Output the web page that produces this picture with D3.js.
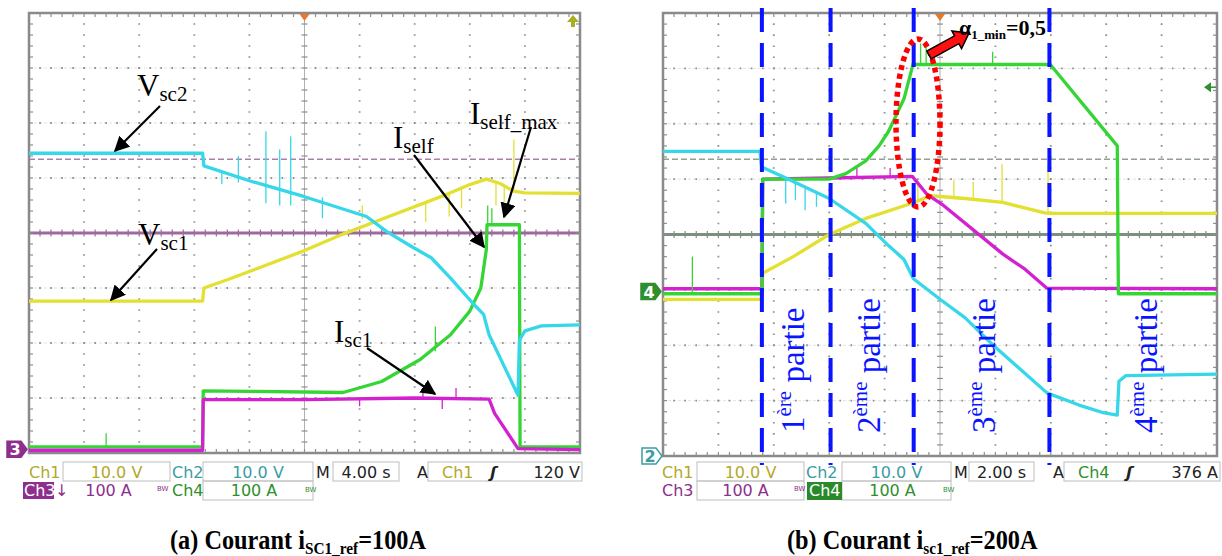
<!DOCTYPE html>
<html><head><meta charset="utf-8">
<script src="https://cdn.jsdelivr.net/npm/d3@7"></script>
<style>body{margin:0;background:#fff}svg{display:block}</style>
</head><body><svg id="c" width="1222" height="556"></svg>
<script>
// ---------------- DATA (time in s, level in screen divisions from bottom) ----------------
// Panel (a): 4 s/div
const aVsc1 = [[0,2.76],[12.6,2.76],[12.7,3.0],[14.4,3.15],[20,3.68],[22.8,3.98],[25.6,4.25],[30,4.67],[32,4.88],[33.2,4.98],[34.2,4.9],[35.2,4.76],[36,4.73],[40,4.72]];
const aVsc2 = [[0,5.45],[12.6,5.45],[12.7,5.22],[16,4.95],[20,4.66],[24.5,4.3],[26,4.02],[27.8,3.75],[29.2,3.55],[30.6,3.18],[32.3,2.7],[33.0,2.52],[33.4,2.15],[35.5,1.05],[35.6,2.05],[36.0,2.22],[37.2,2.31],[40,2.33]];
const aIsc1 = [[0,0.05],[12.6,0.05],[12.65,0.97],[20,0.97],[28,1.0],[33.4,0.98],[33.8,0.72],[35.5,0.08],[40,0.06]];
const aIself = [[0,0.11],[12.6,0.11],[12.65,1.13],[16,1.12],[22.8,1.1],[25.6,1.3],[28.4,1.7],[30.6,2.15],[32,2.58],[32.8,3.0],[33.2,3.7],[33.25,4.15],[35.6,4.15],[35.65,0.11],[40,0.11]];
const aSpikesVsc1 = [[24.2,4.25,4.5],[28.8,4.55,4.2],[30.5,4.7,4.3],[31.4,4.8,4.45],[33.9,4.95,4.5],[34.5,4.85,4.45],[35.2,4.75,5.7]];
const aSpikesVsc2 = [[14.0,5.13,4.89],[15.2,5.4,4.92],[17.2,5.85,4.54],[18.2,5.52,4.5],[19.0,5.76,4.5],[21.3,4.65,4.27]];
const aSpikesIsc1 = [[24,0.98,0.85],[28.6,1.0,1.18],[30,0.97,0.8],[31,1.0,1.18]];
const aSpikesIself = [[5.6,0.11,0.36],[29.5,1.85,2.3],[33.3,4.15,4.5],[33.6,4.15,4.45]];
const aRefSolid = 4, aRefDashed = 5.34;

// Panel (b): 2 s/div
const bVsc1 = [[0,2.83],[3.57,2.83],[3.6,3.3],[4.7,3.6],[6.0,4.0],[7.32,4.29],[8.96,4.56],[9.66,4.7],[10.9,4.65],[12.26,4.58],[13.78,4.39],[14,4.38],[20,4.38]];
const bVsc2 = [[0,5.5],[3.5,5.5],[3.56,5.22],[4.3,5.05],[6.0,4.65],[7.32,4.2],[8.14,3.8],[8.7,3.55],[9.04,3.2],[10,2.83],[10.9,2.5],[11.92,2.0],[12.96,1.54],[13.86,1.14],[15.02,0.92],[15.84,0.79],[16.4,0.74],[16.46,1.35],[16.7,1.45],[20,1.48]];
const bIsc1 = [[0,3.02],[3.57,3.02],[3.6,5.0],[6,5.02],[9,5.05],[9.52,4.73],[10.06,4.55],[12.26,3.65],[13.08,3.37],[13.86,3.03],[20,3.02]];
const bIself = [[0,2.93],[3.57,2.93],[3.6,5.0],[6.0,5.0],[6.6,5.1],[7.32,5.33],[7.8,5.6],[8.14,5.86],[8.7,6.45],[9.04,7.1],[9.1,7.07],[13.98,7.07],[16.4,5.6],[16.44,2.93],[20,2.93]];
const bSpikesVsc1 = [[9.2,4.6,4.9],[10.5,4.68,4.98],[11.2,4.65,4.95],[12.24,4.6,5.27],[13.9,4.4,5.25]];
const bSpikesVsc2 = [[4.43,5.02,4.56],[4.78,4.95,4.62],[5.13,4.88,4.44],[5.54,4.78,4.5]];
const bSpikesIself = [[1.06,2.93,3.6],[9.3,7.07,7.45],[9.5,7.07,7.4],[11.9,7.07,7.3]];
const bSpikesIsc1 = [[7,5.03,5.2],[8.2,5.04,5.2]];
const bRefSolid = 4, bRefDashed = 5.36;
const bPhaseBounds = [3.57, 6.05, 9.05, 13.95];
const bPhaseLabels = [["1","ère"],["2","ème"],["3","ème"],["4","ème"]];
const bPhaseLabelT = [5.1, 7.85, 12.0, 17.85];

// Status bar texts
const aStatus = {ch1:"10.0 V", ch2:"10.0 V", ch3:"100 A", ch4:"100 A", time:"4.00 s", trigCh:"Ch1", trigLvl:"120 V"};
const bStatus = {ch1:"10.0 V", ch2:"10.0 V", ch3:"100 A", ch4:"100 A", time:"2.00 s", trigCh:"Ch4", trigLvl:"376 A"};

// ---------------- STYLE ----------------
const C = {ch1:"#e3e031", ch2:"#35d7e8", ch3:"#d421d0", ch4:"#35d535",
  t1:"#b3a82b", t2:"#3b9ca4", t3:"#8d2f8d", t4:"#2f8f2f", grid:"#8e8e8e", frame:"#8a8a8a"};
const serif = "'Liberation Serif','Times New Roman',serif";
const sans = "'DejaVu Sans',Verdana,sans-serif";

const svg = d3.select('#c');
svg.append('rect').attr('width',1222).attr('height',556).attr('fill','#fff');

function drawPanel(o){
  const x = d3.scaleLinear().domain([0,o.tMax]).range([o.left,o.right]);
  const y = d3.scaleLinear().domain([0,8]).range([o.bottom,o.top]);
  const g = svg.append('g');
  const tDiv = o.tMax/10;
  const mx = (o.right-o.left)/50, my = (o.bottom-o.top)/40;
  for (let i=1;i<8;i++){ if(i===4) continue;
    g.append('line').attr('x1',o.left).attr('x2',o.right).attr('y1',y(i)).attr('y2',y(i))
      .attr('stroke','#e2e2e2').attr('stroke-width',1).attr('stroke-dasharray','3 2');
    g.append('line').attr('x1',o.left).attr('x2',o.right).attr('y1',y(i)).attr('y2',y(i))
      .attr('stroke',C.grid).attr('stroke-width',1.8).attr('stroke-dasharray',`1.6 ${mx-1.6}`).attr('stroke-dashoffset',0.8);
  }
  for (let i=1;i<10;i++){ if(i===5) continue;
    g.append('line').attr('x1',x(i*tDiv)).attr('x2',x(i*tDiv)).attr('y1',o.top).attr('y2',o.bottom)
      .attr('stroke',C.grid).attr('stroke-width',1.8).attr('stroke-dasharray',`1.6 ${my-1.6}`).attr('stroke-dashoffset',0.8);
  }
  const cx = x(5*tDiv);
  g.append('line').attr('x1',cx).attr('x2',cx).attr('y1',o.top).attr('y2',o.bottom).attr('stroke','#b0b0b0').attr('stroke-width',1);
  d3.range(0,41).forEach(k=>{ const yy=o.top+k*my;
    g.append('line').attr('x1',cx-3).attr('x2',cx+3).attr('y1',yy).attr('y2',yy).attr('stroke',C.grid).attr('stroke-width',1.2);});
  g.append('line').attr('x1',o.left).attr('x2',o.right).attr('y1',y(o.refDashed)).attr('y2',y(o.refDashed))
    .attr('stroke',o.refColor).attr('stroke-width',1.6).attr('stroke-dasharray','6 3').attr('opacity',0.85);
  g.append('line').attr('x1',o.left).attr('x2',o.right).attr('y1',y(o.refSolid)).attr('y2',y(o.refSolid))
    .attr('stroke',o.refColor).attr('stroke-width',3);
  d3.range(0,51).forEach(k=>{ const xx=o.left+k*mx;
    g.append('line').attr('x1',xx).attr('x2',xx).attr('y1',y(4)-3.5).attr('y2',y(4)+3.5).attr('stroke',o.refColor).attr('stroke-width',1.2);});
  g.append('rect').attr('x',o.left).attr('y',o.top).attr('width',o.right-o.left).attr('height',o.bottom-o.top)
    .attr('fill','none').attr('stroke',C.frame).attr('stroke-width',2.5);
  d3.range(1,50).forEach(k=>{ const xx=o.left+k*mx;
    g.append('line').attr('x1',xx).attr('x2',xx).attr('y1',o.top).attr('y2',o.top+4).attr('stroke',C.grid).attr('stroke-width',1.2);
    g.append('line').attr('x1',xx).attr('x2',xx).attr('y1',o.bottom).attr('y2',o.bottom-4).attr('stroke',C.grid).attr('stroke-width',1.2);});
  d3.range(1,40).forEach(k=>{ const yy=o.top+k*my;
    g.append('line').attr('x1',o.left).attr('x2',o.left+4).attr('y1',yy).attr('y2',yy).attr('stroke',C.grid).attr('stroke-width',1.2);
    g.append('line').attr('x1',o.right).attr('x2',o.right-4).attr('y1',yy).attr('y2',yy).attr('stroke',C.grid).attr('stroke-width',1.2);});
  g.append('path').attr('d',`M${cx-5},${o.top+1}L${cx+5},${o.top+1}L${cx},${o.top+8}Z`).attr('fill','#e8782a');
  const line = d3.line().x(d=>x(d[0])).y(d=>y(d[1]));
  o.traces.forEach(tr=>{
    g.append('path').datum(tr.data).attr('d',line).attr('fill','none').attr('stroke',tr.color)
      .attr('stroke-width',tr.w||3.3).attr('stroke-linejoin','round');
    (tr.spikes||[]).forEach(s=>g.append('line').attr('x1',x(s[0])).attr('x2',x(s[0])).attr('y1',y(s[1])).attr('y2',y(s[2]))
      .attr('stroke',tr.color).attr('stroke-width',1.3));
  });
  return {x,y,g};
}

const A = drawPanel({left:29,right:580,top:13,bottom:453,tMax:40,refSolid:aRefSolid,refDashed:aRefDashed,refColor:'#9c6a9c',
  traces:[{data:aVsc1,color:C.ch1,spikes:aSpikesVsc1},{data:aIself,color:C.ch4,spikes:aSpikesIself},
          {data:aIsc1,color:C.ch3,spikes:aSpikesIsc1},{data:aVsc2,color:C.ch2,spikes:aSpikesVsc2}]});
const B = drawPanel({left:663,right:1217,top:13,bottom:456,tMax:20,refSolid:bRefSolid,refDashed:bRefDashed,refColor:'#7f8f7f',
  traces:[{data:bVsc1,color:C.ch1,spikes:bSpikesVsc1},{data:bIsc1,color:C.ch3,spikes:bSpikesIsc1},
          {data:bIself,color:C.ch4,spikes:bSpikesIself},{data:bVsc2,color:C.ch2,spikes:bSpikesVsc2}]});

function marker(x0,yc,fill,stroke,label,txtColor){
  const g=svg.append('g');
  g.append('path').attr('d',`M${x0},${yc-8}L${x0+14},${yc-8}L${x0+20},${yc}L${x0+14},${yc+8}L${x0},${yc+8}Z`)
    .attr('fill',fill).attr('stroke',stroke).attr('stroke-width',1.5);
  g.append('text').attr('x',x0+8).attr('y',yc+6).attr('text-anchor','middle').attr('font-family',sans)
    .attr('font-size',16).attr('font-weight','bold').attr('fill',txtColor).text(label);
}
marker(7,A.y(0.07),'#8d2f8d','#8d2f8d','3','#fff');
marker(642,B.y(0.0),'#fff',C.t2,'2',C.t2);
marker(641,B.y(2.97),'#2f8f2f','#2f8f2f','4','#fff');
svg.append('path').attr('d',`M573,15L567,22L571,22L571,27L575,27L575,22L579,22Z`).attr('fill','#a8b020');
svg.append('path').attr('d',`M1204,${B.y(6.66)}L1211,${B.y(6.66)-5}L1211,${B.y(6.66)+5}Z`).attr('fill','#2f8f2f');
svg.append('line').attr('x1',1209).attr('x2',1216).attr('y1',B.y(6.66)).attr('y2',B.y(6.66)).attr('stroke','#2f8f2f').attr('stroke-width',1.5);

// ---------------- STATUS BARS ----------------
function status(o,s,isA){
  const g=svg.append('g').attr('font-family',sans).attr('font-size',16);
  const r1=o.r1, r2=o.r2;
  const box=(x0,x1,y0,y1)=>g.append('rect').attr('x',x0).attr('y',y0).attr('width',x1-x0).attr('height',y1-y0)
     .attr('fill','none').attr('stroke','#c8c8c8').attr('stroke-width',1.2);
  const t=(x,yb,txt,col,anchor)=>g.append('text').attr('x',x).attr('y',yb).attr('fill',col).attr('text-anchor',anchor||'start').text(txt);
  box(o.b1[0],o.b1[1],r1-16,r1+3); box(o.b2[0],o.b2[1],r1-16,r1+3); box(o.bM[0],o.bM[1],r1-16,r1+3); box(o.bA[0],o.bA[1],r1-16,r1+3);
  box(o.b2[0],o.b2[1],r1+3,r2+4);
  if(!isA) box(o.b1[0],o.b1[1],r1+3,r2+4);
  t(o.L,r1,'Ch1',C.t1); t((o.b1[0]+o.b1[1])/2,r1,s.ch1,C.t1,'middle');
  t(o.b1[1]+2,r1,'Ch2',C.t2); t((o.b2[0]+o.b2[1])/2,r1,s.ch2,C.t2,'middle');
  t(o.b2[1]+3,r1,'M','#222'); t((o.bM[0]+o.bM[1])/2,r1,s.time,'#222','middle');
  t(o.bA[0]-11,r1,'A','#222'); t(o.bA[0]+14,r1,s.trigCh,isA?C.t1:C.t4);
  g.append('text').attr('x',o.bA[0]+62).attr('y',r1).attr('font-style','italic').attr('font-weight','bold').attr('fill','#222').text('ʃ');
  t(o.bA[1]-2,r1,s.trigLvl,'#222','end');
  if(isA){
    g.append('rect').attr('x',o.L-6).attr('y',r2-14).attr('width',31).attr('height',17).attr('fill','#8d2f8d');
    t(o.L-5,r2,'Ch3','#fff'); t(o.L+26,r2,'↓',C.t3);
    t((o.b1[0]+o.b1[1])/2-8,r2,s.ch3,C.t3,'middle');
    t(o.b2[0]-31,r2,'Ch4',C.t4);
    g.append('text').attr('x',o.b1[1]-13).attr('y',r2-5).attr('font-size',7).attr('fill',C.t3).text('BW');
  } else {
    t(o.L,r2,'Ch3',C.t3); t((o.b1[0]+o.b1[1])/2-5,r2,s.ch3,C.t3,'middle');
    g.append('rect').attr('x',o.b2[0]-35).attr('y',r2-14).attr('width',35).attr('height',18).attr('fill','#2a8a2a');
    t(o.b2[0]-33,r2,'Ch4','#fff');
    g.append('text').attr('x',o.b1[1]-10).attr('y',r2-5).attr('font-size',7).attr('fill',C.t3).text('BW');
  }
  t((o.b2[0]+o.b2[1])/2-4,r2,s.ch4,C.t4,'middle');
  g.append('text').attr('x',o.b2[1]-8).attr('y',r2-4).attr('font-size',7).attr('fill',C.t4).text('BW');
}
status({L:29,r1:478,r2:496,b1:[63,170],b2:[203,313],bM:[333,399],bA:[428,582]},aStatus,true);
status({L:662,r1:478,r2:496,b1:[697,804],b2:[842,951],bM:[969,1034],bA:[1064,1220]},bStatus,false);

// ---------------- ANNOTATIONS PANEL A ----------------
svg.append('defs').append('marker').attr('id','ah').attr('viewBox','0 0 10 10').attr('refX',9).attr('refY',5)
  .attr('markerWidth',7).attr('markerHeight',7).attr('orient','auto')
  .append('path').attr('d','M0,0L10,5L0,10Z').attr('fill','#000');
function arrow(x1,y1,x2,y2){
  svg.append('line').attr('x1',x1).attr('y1',y1).attr('x2',x2).attr('y2',y2).attr('stroke','#000').attr('stroke-width',2.2).attr('marker-end','url(#ah)');
}
function label(x,yb,main,sub,fs,ss){
  const t=svg.append('text').attr('x',x).attr('y',yb).attr('font-family',serif).attr('font-size',fs).attr('fill','#000');
  t.append('tspan').text(main);
  t.append('tspan').attr('font-size',ss).attr('dy',5).text(sub);
}
label(137,96,'V','sc2',31,21); arrow(160,106,115,151);
label(138,245,'V','sc1',31,21); arrow(157,249,111,300);
label(393,148,'I','self',31,21); arrow(414,155,484,247);
label(470,124,'I','self_max',31,21); arrow(531,127,504,217);
label(334,342,'I','sc1',31,21); arrow(367,348,435,394);

// ---------------- ANNOTATIONS PANEL B ----------------
bPhaseBounds.forEach(t=>{
  svg.append('line').attr('x1',B.x(t)).attr('x2',B.x(t)).attr('y1',8).attr('y2',465)
    .attr('stroke','#0a14ff').attr('stroke-width',4).attr('stroke-dasharray','24 11');
});
bPhaseLabelT.forEach((t,i)=>{
  const tx=svg.append('text').attr('transform',`translate(${B.x(t)},433) rotate(-90)`)
    .attr('font-family',serif).attr('font-size',33).attr('fill','#0a14ff');
  tx.append('tspan').text(bPhaseLabels[i][0]);
  tx.append('tspan').attr('font-size',21).attr('dy',-13).text(bPhaseLabels[i][1]);
  tx.append('tspan').attr('dy',13).text(' partie');
});
svg.append('ellipse').attr('cx',918).attr('cy',123).attr('rx',22).attr('ry',84)
  .attr('fill','none').attr('stroke','#ff0000').attr('stroke-width',5.5).attr('stroke-dasharray','5 4');
(function(){
  const x1=929,y1=55,x2=969,y2=33; const dx=x2-x1,dy=y2-y1,L=Math.hypot(dx,dy),ux=dx/L,uy=dy/L,nx=-uy,ny=ux;
  const sw=4.5,hw=10,hl=14; const bx=x2-ux*hl, by=y2-uy*hl;
  const p=[[x1+nx*sw,y1+ny*sw],[bx+nx*sw,by+ny*sw],[bx+nx*hw,by+ny*hw],[x2,y2],[bx-nx*hw,by-ny*hw],[bx-nx*sw,by-ny*sw],[x1-nx*sw,y1-ny*sw]];
  svg.append('path').attr('d','M'+p.map(q=>q.join(',')).join('L')+'Z').attr('fill','#ff1010').attr('stroke','#000').attr('stroke-width',1.5);
})();
(function(){
  const t=svg.append('text').attr('x',959).attr('y',35).attr('font-family',serif).attr('font-weight','bold').attr('font-size',22).attr('fill','#000');
  t.append('tspan').text('α');
  t.append('tspan').attr('font-size',13).attr('dy',4).text('1_min');
  t.append('tspan').attr('dy',-4).text('=0,5');
})();

// ---------------- CAPTIONS ----------------
function caption(x,main,sub,tail){
  const t=svg.append('text').attr('transform',`translate(${x},549) scale(0.9,1)`).attr('font-family',serif).attr('font-weight','bold').attr('font-size',27).attr('fill','#000');
  t.append('tspan').text(main); t.append('tspan').attr('font-size',17).attr('dy',5).text(sub); t.append('tspan').attr('dy',-5).text(tail);
}
caption(170,'(a) Courant i','SC1_ref','=100A');
caption(787,'(b) Courant i','sc1_ref','=200A');
</script></body></html>
